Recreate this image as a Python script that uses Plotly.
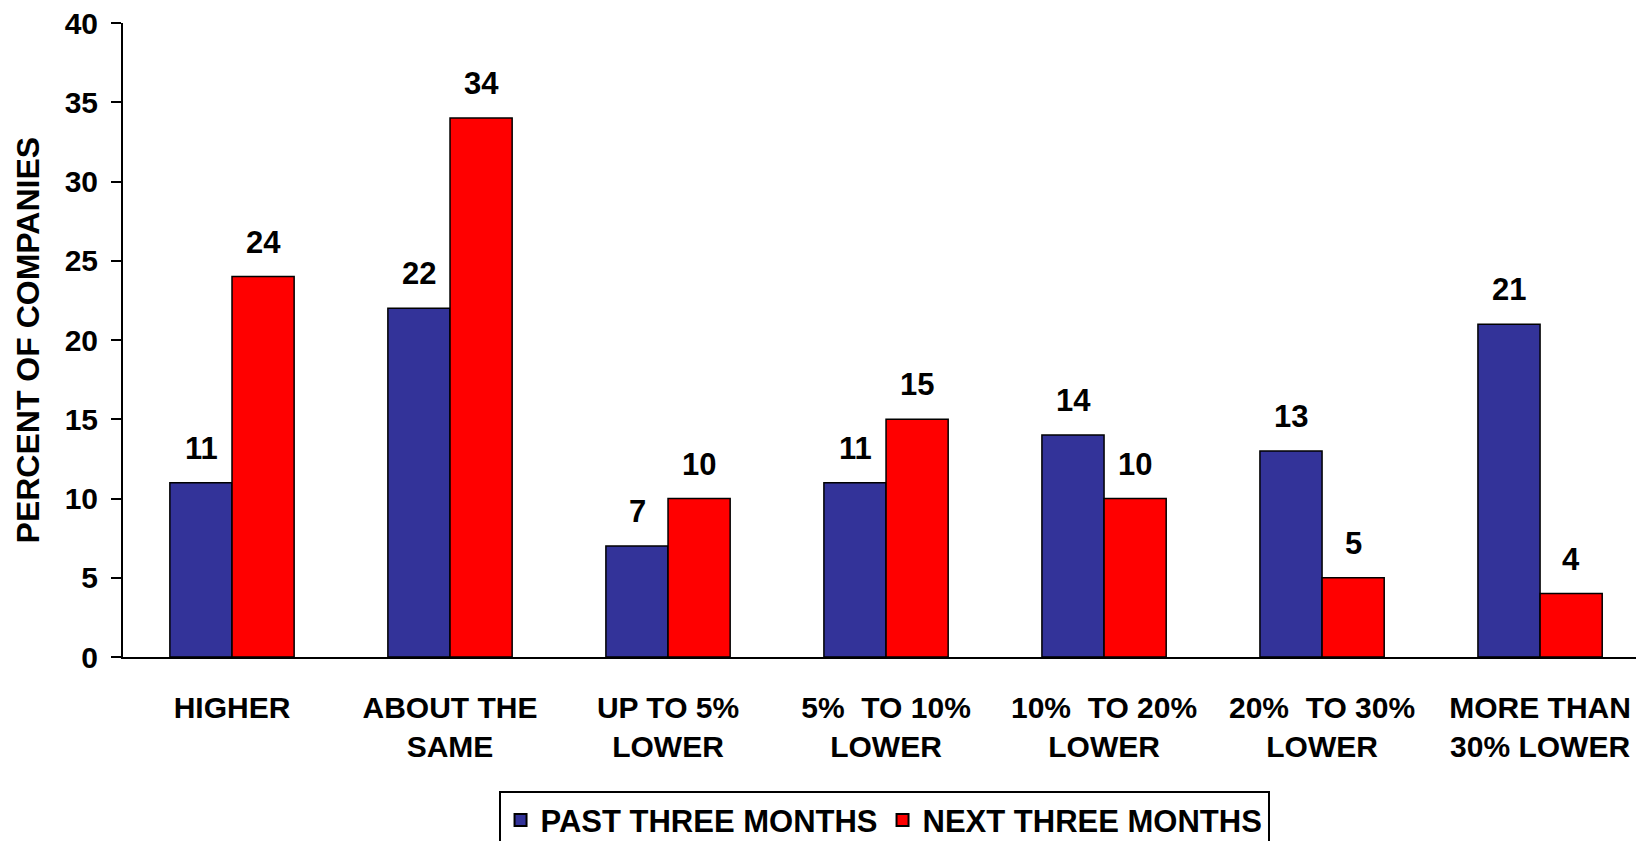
import plotly.graph_objects as go

categories = ["HIGHER", "ABOUT THE<br>SAME", "UP TO 5%<br>LOWER", "5%  TO 10%<br>LOWER",
              "10%  TO 20%<br>LOWER", "20%  TO 30%<br>LOWER", "MORE THAN<br>30% LOWER"]
past = [11, 22, 7, 11, 14, 13, 21]
nxt = [24, 34, 10, 15, 10, 5, 4]
series_names = ["PAST THREE MONTHS", "NEXT THREE MONTHS"]
colors = ["#333399", "#FF0000"]

FAM = "Liberation Sans, Arial, sans-serif"
def F(size):
    return dict(family=FAM, size=size, color="black", weight="bold")

fig = go.Figure()
for name, vals, col in zip(series_names, [past, nxt], colors):
    fig.add_trace(go.Bar(
        x=list(range(len(categories))), y=vals, name=name,
        marker=dict(color=col, line=dict(color="black", width=1.5)),
        offsetgroup=name,
    ))

annotations = []
for i in range(len(categories)):
    for k, vals in enumerate([past, nxt]):
        annotations.append(dict(
            x=i, y=vals[i], xref="x", yref="y", text=str(vals[i]),
            showarrow=False, yanchor="bottom", yshift=15,
            xshift=(-31 if k == 0 else 31), font=F(31),
        ))
annotations.append(dict(
    x=-0.0625, y=0.5, xref="paper", yref="paper", text="PERCENT OF COMPANIES",
    textangle=-90, showarrow=False, xanchor="center", yanchor="middle", font=F(32),
))

fig.update_layout(
    width=1636, height=841,
    margin=dict(l=123, r=0, t=23, b=184, autoexpand=False),
    paper_bgcolor="white", plot_bgcolor="white",
    barmode="group", bargap=0.43, bargroupgap=0,
    font=F(30),
    showlegend=True,
    legend=dict(
        orientation="h", x=0.503, y=-0.212, xanchor="center", yanchor="top",
        bordercolor="black", borderwidth=2, font=F(31),
        itemsizing="constant", tracegroupgap=0, itemwidth=30,
    ),
    annotations=annotations,
)
fig.update_xaxes(
    range=[-0.5, 6.44], tickmode="array", tickvals=list(range(len(categories))),
    ticktext=categories, showline=True, linecolor="black", linewidth=2,
    ticks="", showgrid=False, zeroline=False, ticklabelstandoff=23,
    tickfont=F(30), automargin=False,
)
fig.update_yaxes(
    range=[0, 40], dtick=5, showline=True, linecolor="black", linewidth=2,
    ticks="outside", ticklen=10, tickwidth=2, tickcolor="black",
    showgrid=False, zeroline=False, tickfont=F(30), automargin=False,
    ticklabelstandoff=7,
)

fig.write_html("out.html")
